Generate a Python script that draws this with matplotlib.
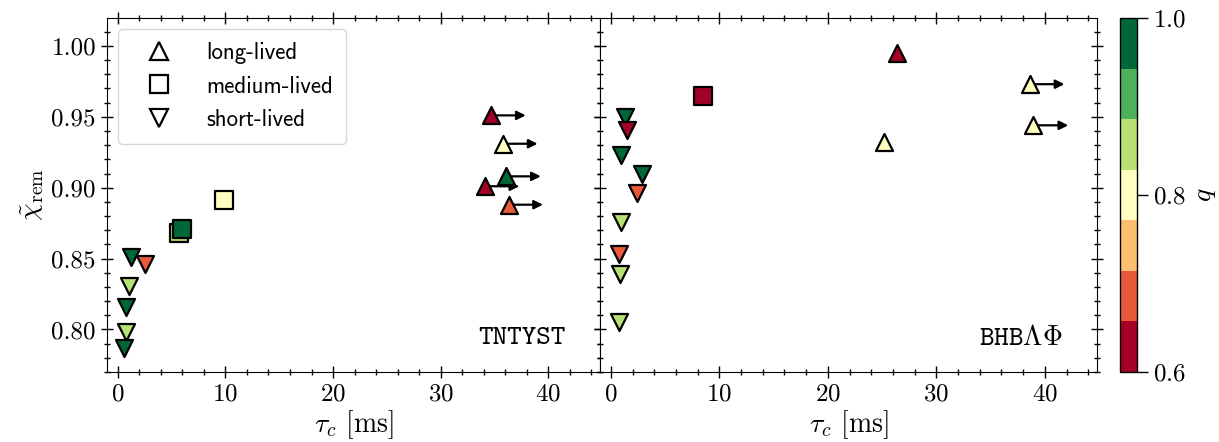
import numpy as np
import matplotlib.pyplot as plt
from matplotlib.lines import Line2D

plt.rcParams.update({
    "font.family": "serif",
    "font.serif": ["cmr10"],
    "mathtext.fontset": "cm",
    "axes.formatter.use_mathtext": True,
    "axes.unicode_minus": False,
    "font.size": 18,
})

# TNTYST
tnt_tau = [1.2, 2.5, 1.0, 0.77, 0.74, 0.62, 5.7, 6.0, 9.9, 34.7, 35.8, 36.1, 34.1, 36.3]
tnt_chi = [0.851, 0.846, 0.831, 0.816, 0.798, 0.787, 0.868, 0.871, 0.891,
           0.951, 0.931, 0.908, 0.901, 0.888]
tnt_q = [1.0, 0.7, 0.85, 1.0, 0.85, 1.0, 0.85, 1.0, 0.8, 0.65, 0.8, 1.0, 0.65, 0.7]
tnt_kind = ["short"] * 6 + ["medium"] * 3 + ["long"] * 5
tnt_lower = [False] * 9 + [True] * 5

# BHBLambdaPhi
bhb_tau = [1.28, 1.51, 0.94, 2.9, 2.45, 0.94, 0.79, 0.85, 0.74, 8.45, 26.4, 38.6, 38.95, 25.2]
bhb_chi = [0.950, 0.941, 0.923, 0.910, 0.896, 0.876, 0.853, 0.839, 0.805,
           0.965, 0.995, 0.973, 0.944, 0.932]
bhb_q = [1.0, 0.65, 1.0, 1.0, 0.7, 0.85, 0.7, 0.85, 0.85, 0.65, 0.65, 0.8, 0.8, 0.8]
bhb_kind = ["short"] * 9 + ["medium"] + ["long"] * 4
bhb_lower = [False] * 11 + [True, True, False]

markers = {"long": "^", "medium": "s", "short": "v"}
arrow_len = 3.2
cmap = plt.get_cmap("RdYlGn", 7)

fig = plt.figure(figsize=(12.19, 4.42), dpi=100)
ax1 = fig.add_axes([0.0878, 0.1584, 0.4044, 0.8009])
ax2 = fig.add_axes([0.4922, 0.1584, 0.4077, 0.8009], sharey=ax1)
cax = fig.add_axes([0.9188, 0.1584, 0.0139, 0.8009])


def draw_panel(ax, tau, chi, q, kind, lower, name):
    tau = np.array(tau)
    chi = np.array(chi)
    q = np.array(q)
    kind = np.array(kind)
    for t, c, lo in zip(tau, chi, lower):
        if lo:
            ax.annotate("", xy=(t + arrow_len, c), xytext=(t, c),
                        arrowprops=dict(arrowstyle="-|>", color="k", lw=1.6,
                                        mutation_scale=13, shrinkA=0, shrinkB=0),
                        zorder=1)
    sc = None
    for i in range(len(tau)):
        sc = ax.scatter(tau[i], chi[i], c=[q[i]], cmap=cmap, vmin=0.6, vmax=1.0,
                        marker=markers[kind[i]], s=150, edgecolors="k",
                        linewidths=1.6, zorder=2)
    ax.text(0.93, 0.096, name, transform=ax.transAxes, ha="right", va="center",
            family="cmtt10", fontsize=20)
    ax.set_xlim(-1, 44.8)
    ax.set_xticks([0, 10, 20, 30, 40])
    ax.set_xticks(np.arange(0, 45, 2), minor=True)
    ax.set_xlabel(r"$\tau_c$ [ms]", fontsize=20, labelpad=2)
    ax.tick_params(which="both", direction="inout", top=True, right=True, width=1)
    ax.tick_params(which="major", length=9)
    ax.tick_params(which="minor", length=5)
    return sc


sc = draw_panel(ax1, tnt_tau, tnt_chi, tnt_q, tnt_kind, tnt_lower, "TNTYST")
draw_panel(ax2, bhb_tau, bhb_chi, bhb_q, bhb_kind, bhb_lower, r"BHB$\Lambda\Phi$")

ax1.set_ylim(0.7703, 1.0197)
ax1.set_yticks([0.80, 0.85, 0.90, 0.95, 1.00])
ax1.set_yticks(np.arange(0.77, 1.02, 0.01), minor=True)
ax1.yaxis.set_major_formatter(plt.FormatStrFormatter("%.2f"))
ax1.set_ylabel(r"$\tilde{\chi}_{\rm rem}$", fontsize=20)
ax2.tick_params(labelleft=False)

handles = [Line2D([], [], ls="none", marker=markers[k], ms=13, mfc="white",
                  mec="k", mew=1.6) for k in ("long", "medium", "short")]
ax1.legend(handles, ["long-lived", "medium-lived", "short-lived"], loc="upper left",
           prop={"family": "cmss10", "size": 16.5}, handlelength=2.4,
           handletextpad=0.9, labelspacing=0.5, borderpad=0.55)

cb = fig.colorbar(sc, cax=cax, ticks=[0.6, 0.8, 1.0])
cb.set_label("$q$", fontsize=20)
cb.ax.tick_params(length=8, width=1)
cb.outline.set_linewidth(1)

fig.savefig("out.png", dpi=100)
